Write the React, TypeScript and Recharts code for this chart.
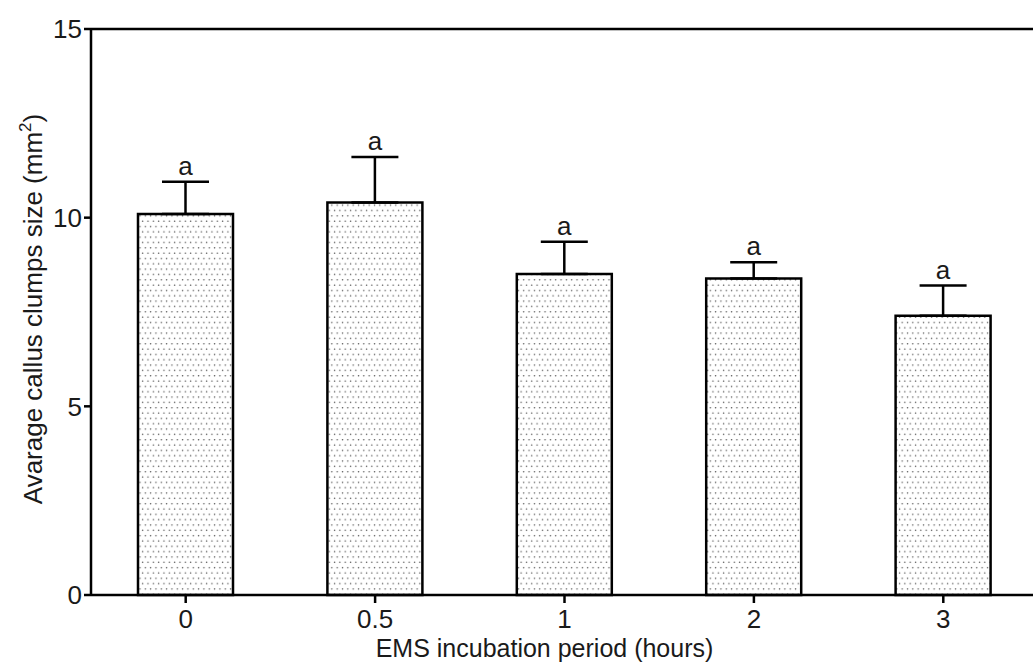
import React from 'react';
import { BarChart, Bar, XAxis, YAxis, ErrorBar, LabelList, ReferenceLine, Label } from 'recharts';

const periods = ['0', '0.5', '1', '2', '3'];
const means = [10.1, 10.4, 8.51, 8.39, 7.4];
const errors = [0.85, 1.21, 0.85, 0.43, 0.8];
const letters = ['a', 'a', 'a', 'a', 'a'];
const yTicks = [0, 5, 10, 15];

const data = periods.map((p, i) => ({
  period: p,
  mean: means[i],
  err: [0, errors[i]],
  letter: letters[i],
}));

const FONT = '"Liberation Sans", Arial, Helvetica, sans-serif';
const INK = '#1a1a1a';
const FS = 26;

const LetterLabel = (props: any) => {
  const { x, y, width, height, value, index } = props;
  const mean = means[index];
  const pxPerUnit = height / mean;
  const top = y - errors[index] * pxPerUnit;
  return (
    <text x={x + width / 2} y={top - 7} textAnchor="middle" fontFamily={FONT} fontSize={FS} fill={INK}>
      {value}
    </text>
  );
};

export default function App() {
  return (
    <div style={{ position: 'absolute', left: 0, top: 0, width: 1033, height: 662, overflow: 'hidden', background: '#fff' }}>
      <BarChart
        width={1038}
        height={662}
        data={data}
        margin={{ top: 29, right: 0, bottom: 0, left: 0 }}
      >
        <defs>
          <pattern id="dots" patternUnits="userSpaceOnUse" width={5.33} height={10.66}>
            <rect x={0} y={0} width={5.33} height={10.66} fill="#ffffff" />
            <circle cx={1.4} cy={2.6} r={0.75} fill="#555" />
            <circle cx={4.1} cy={7.9} r={0.75} fill="#555" />
          </pattern>
        </defs>
        <XAxis
          dataKey="period"
          height={67}
          tickSize={8}
          tickMargin={7}
          axisLine={{ stroke: '#000', strokeWidth: 2.5 }}
          tickLine={{ stroke: '#000', strokeWidth: 2.5 }}
          tick={{ fontSize: FS, fontFamily: FONT, fill: INK }}
          label={{
            content: (p: any) => {
              const vb = p.viewBox;
              return (
                <text x={vb.x + vb.width / 2 - 20} y={vb.y + vb.height - 5.5} textAnchor="middle" fontFamily={FONT} fontSize={25} fill={INK}>
                  EMS incubation period (hours)
                </text>
              );
            },
          }}
        />
        <YAxis
          width={91}
          domain={[0, 15]}
          ticks={yTicks}
          interval={0}
          tickSize={7}
          tickMargin={2}
          axisLine={{ stroke: '#000', strokeWidth: 2.5 }}
          tickLine={{ stroke: '#000', strokeWidth: 2.5 }}
          tick={{ fontSize: FS, fontFamily: FONT, fill: INK }}
        >
          <Label
            content={(p: any) => {
              const vb = p.viewBox;
              const cx = 42;
              const cy = vb.y + vb.height / 2 - 3;
              return (
                <text x={cx} y={cy} textAnchor="middle" transform={`rotate(-90 ${cx} ${cy})`} fontFamily={FONT} fontSize={FS} fill={INK}>
                  <tspan>Avarage callus clumps size (mm</tspan>
                  <tspan fontSize={17} dy={-11}>2</tspan>
                  <tspan dy={11}>)</tspan>
                </text>
              );
            }}
          />
        </YAxis>
        <ReferenceLine y={15} stroke="#000" strokeWidth={2.5} ifOverflow="visible" />
        <Bar dataKey="mean" barSize={95} fill="url(#dots)" stroke="#000" strokeWidth={2.5} isAnimationActive={false}>
          <ErrorBar dataKey="err" width={23.5} stroke="#000" strokeWidth={2.5} direction="y" />
          <LabelList dataKey="letter" content={LetterLabel} />
        </Bar>
      </BarChart>
    </div>
  );
}
